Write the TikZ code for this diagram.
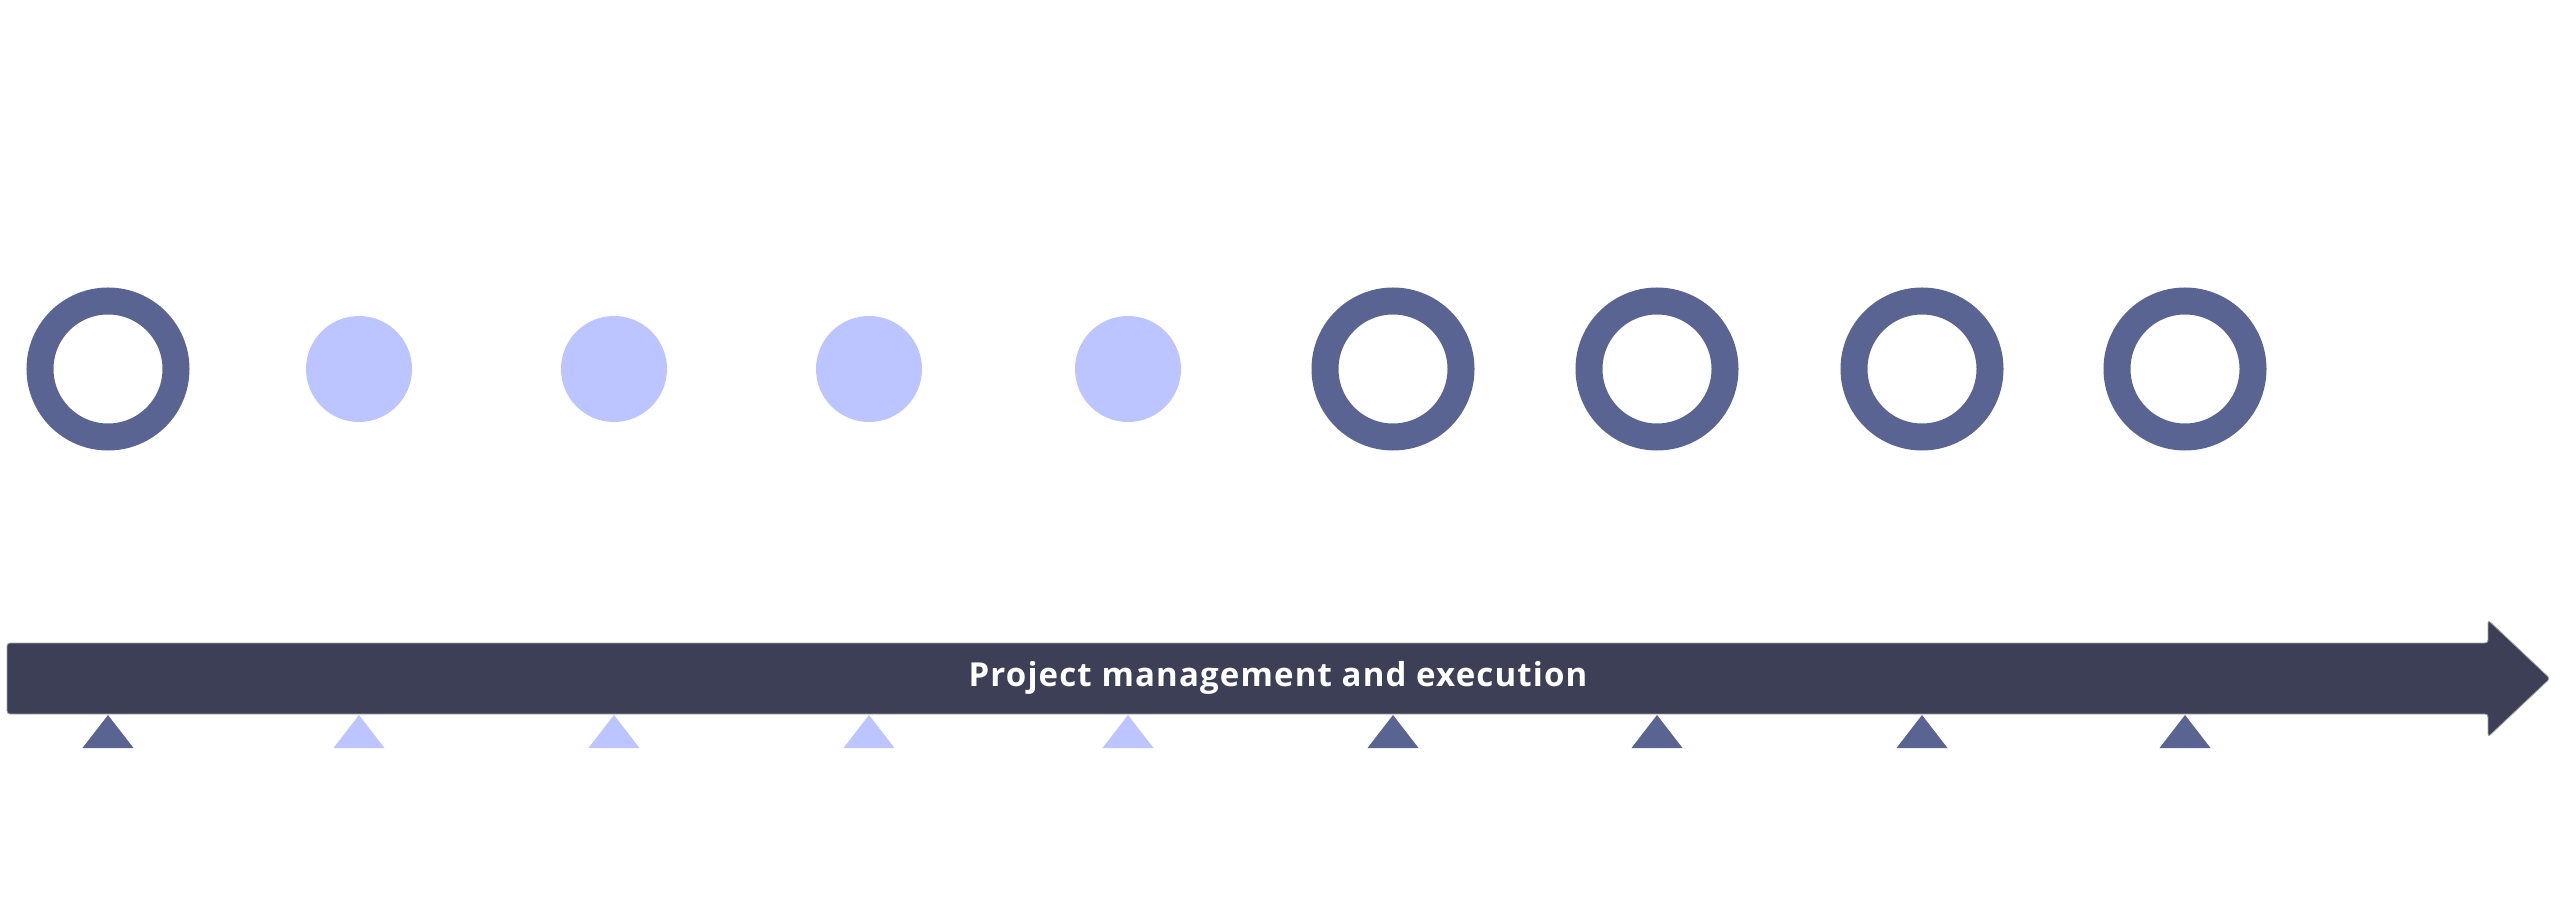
\documentclass[tikz,border=0pt]{standalone}
\usepackage{fontspec}
\setmainfont{Open Sans}
\newfontfamily\barfont[LetterSpace=3.5]{Open Sans}
\definecolor{ringblue}{HTML}{5A6492}
\definecolor{dotblue}{HTML}{BCC5FF}
\definecolor{bargray}{HTML}{3C3F55}
\begin{document}
\begin{tikzpicture}[x=.5pt,y=-.5pt,
		ring/.style={circle,inner sep=0,draw=ringblue,line width=13.5pt,minimum size=68pt},
		dot/.style={circle,inner sep=0,fill=dotblue,minimum size=53pt}]
	\useasboundingbox (0,0) rectangle (2560,914);
	\def\RowY{369}%圆心高度
	\def\BarTop{643}
	\def\BarBot{714}
	% 时间轴箭头
	\draw[fill=bargray,draw=gray!70,line width=.4pt,rounded corners=1.5pt]
		(7,\BarTop)--(2488,\BarTop)--(2488,620)--(2550,678.5)--(2488,737)--(2488,\BarBot)--(7,\BarBot)--cycle;
	\node[text=white,inner sep=0,anchor=base,font=\barfont\fontsize{16.5}{19}\bfseries] (title) at (1278,686) {Project management and execution};
	% 圆点与三角标记
	\foreach \x/\kind/\col [count=\i] in {108/ring/ringblue,359/dot/dotblue,614/dot/dotblue,869/dot/dotblue,1128/dot/dotblue,1393/ring/ringblue,1657/ring/ringblue,1922/ring/ringblue,2185/ring/ringblue}{
		\node[\kind] (m\i) at (\x,\RowY) {};
		\fill[\col] (\x,\BarBot+1)--++(25.5,33)--++(-51,0)--cycle;
	}
\end{tikzpicture}
\end{document}
